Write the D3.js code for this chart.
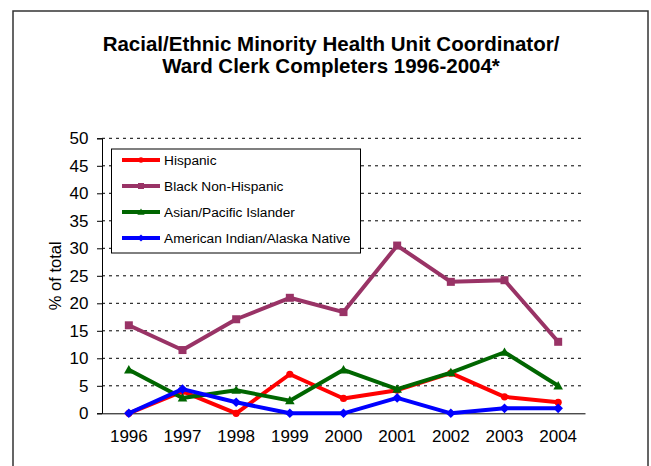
<!DOCTYPE html>
<html><head><meta charset="utf-8">
<script src="https://cdn.jsdelivr.net/npm/d3@7"></script>
<style>body{margin:0;background:#fff;}svg{display:block;font-family:"Liberation Sans",Arial,sans-serif;}</style>
</head><body><svg id="c" width="651" height="466"></svg>
<script>
const years = ["1996","1997","1998","1999","2000","2001","2002","2003","2004"];
const seriesNames = ["Hispanic","Black Non-Hispanic","Asian/Pacific Islander","American Indian/Alaska Native"];
const hispanic = [0, 4.0, 0, 7.1, 2.7, 4.2, 7.3, 3.0, 2.0];
const blackNonHispanic = [16.0, 11.5, 17.1, 21.0, 18.4, 30.5, 23.9, 24.2, 13.0];
const asianPacific = [7.9, 2.8, 4.2, 2.3, 7.9, 4.4, 7.4, 11.1, 5.0];
const americanIndian = [0, 4.4, 2.0, 0, 0, 2.8, 0, 0.9, 0.9];
const yTicks = [0,5,10,15,20,25,30,35,40,45,50];
const colors = ["#ff0000","#993366","#006600","#0000ff"];
const markers = ["circle","square","triangle","diamond"];
const allSeries = [hispanic, blackNonHispanic, asianPacific, americanIndian];
const FF = "Liberation Sans, Arial, sans-serif";

const svg = d3.select("#c");
svg.append("rect").attr("x",13).attr("y",11).attr("width",635).attr("height",470)
  .attr("fill","none").attr("stroke","#333").attr("stroke-width",1.5);

svg.append("text").attr("x",331).attr("y",51).attr("text-anchor","middle")
  .attr("font-weight","bold").attr("font-size","20.5px").attr("fill","#000")
  .text("Racial/Ethnic Minority Health Unit Coordinator/");
svg.append("text").attr("x",331).attr("y",73).attr("text-anchor","middle")
  .attr("font-weight","bold").attr("font-size","20.5px").attr("fill","#000")
  .text("Ward Clerk Completers 1996-2004*");

const L = 102, R = 585, T = 138.3, B = 413.3;
const x = d3.scaleBand().domain(years).range([L,R]);
const y = d3.scaleLinear().domain([0,50]).range([B,T]);

svg.append("g").selectAll("line").data(yTicks.filter(d=>d>0)).join("line")
  .attr("x1",L).attr("x2",R).attr("y1",d=>y(d)).attr("y2",d=>y(d))
  .attr("stroke","#000").attr("stroke-width",1).attr("stroke-dasharray","3,4");

const ya = svg.append("g").attr("transform",`translate(${L},0)`)
  .call(d3.axisLeft(y).tickValues(yTicks).tickSize(5).tickPadding(8.5));
ya.select(".domain").attr("stroke","#000");
ya.selectAll(".tick line").attr("stroke","#000");
ya.selectAll("text").attr("font-size","17px").attr("fill","#000").attr("font-family",FF);

const xa = svg.append("g").attr("transform",`translate(0,${B})`)
  .call(d3.axisBottom(x).tickSize(0).tickPadding(17).tickSizeOuter(0));
xa.select(".domain").attr("stroke","#000");
xa.selectAll("text").attr("font-size","17px").attr("fill","#000").attr("font-family",FF);

svg.append("text").attr("transform",`translate(61,${(T+B)/2}) rotate(-90)`)
  .attr("text-anchor","middle").attr("font-size","16.5px").attr("fill","#000").text("% of total");

function drawMarker(g, type, cx, cy, color, s){
  if(type==="circle") g.append("circle").attr("cx",cx).attr("cy",cy).attr("r",s*0.45).attr("fill",color);
  else if(type==="square") g.append("rect").attr("x",cx-s/2).attr("y",cy-s/2).attr("width",s).attr("height",s).attr("fill",color);
  else if(type==="triangle") g.append("path").attr("d",`M${cx},${cy-s*0.6}L${cx+s*0.6},${cy+s*0.45}L${cx-s*0.6},${cy+s*0.45}Z`).attr("fill",color);
  else g.append("path").attr("d",`M${cx},${cy-s*0.6}L${cx+s*0.6},${cy}L${cx},${cy+s*0.6}L${cx-s*0.6},${cy}Z`).attr("fill",color);
}

const line = d3.line().x((d,i)=>x(years[i])+x.bandwidth()/2).y(d=>y(d));
allSeries.forEach((vals,si)=>{
  const g = svg.append("g");
  g.append("path").datum(vals).attr("d",line).attr("fill","none")
    .attr("stroke",colors[si]).attr("stroke-width",4).attr("stroke-linejoin","round");
  vals.forEach((v,i)=>drawMarker(g, markers[si], x(years[i])+x.bandwidth()/2, y(v), colors[si], 8));
});

const lg = svg.append("g");
lg.append("rect").attr("x",111.5).attr("y",149).attr("width",249).attr("height",104)
  .attr("fill","#fff").attr("stroke","#000").attr("stroke-width",1);
const ly = [160,186,212,238];
seriesNames.forEach((n,i)=>{
  lg.append("line").attr("x1",122).attr("x2",160).attr("y1",ly[i]).attr("y2",ly[i])
    .attr("stroke",colors[i]).attr("stroke-width",4);
  drawMarker(lg, markers[i], 141, ly[i], colors[i], 6);
  lg.append("text").attr("x",164).attr("y",ly[i]+5).attr("font-size","13.7px").attr("fill","#000").text(n);
});
</script></body></html>
